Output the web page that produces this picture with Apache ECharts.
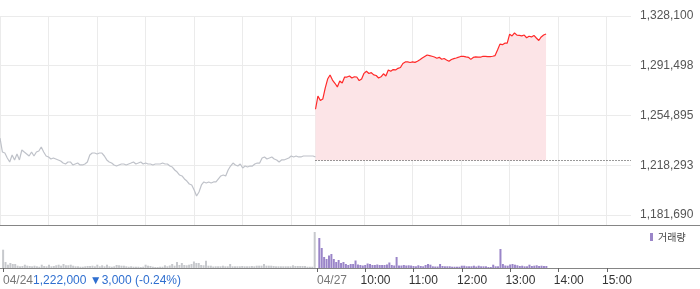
<!DOCTYPE html>
<html>
<head>
<meta charset="utf-8">
<script src="https://cdn.jsdelivr.net/npm/echarts@6/dist/echarts.min.js"></script>
<style>
html,body{margin:0;padding:0;background:#fff;}
#chart{width:700px;height:289px;}
</style>
</head>
<body>
<div id="chart"></div>
<script>
// ---- data ----
// minutes from 04/24 09:00 (04/24 session: 0..390, 04/27 session: 390..780)
const dateLabels = ['04/24', '04/27'];
const dateMinutes = [0, 390];
const timeLabels = ['10:00', '11:00', '12:00', '13:00', '14:00', '15:00'];
const timeMinutes = [450, 510, 570, 630, 690, 750];
const prevDayHourMinutes = [0, 60, 120, 180, 240, 300, 360];
const yTicks = [1181690, 1218293, 1254895, 1291498, 1328100];
const prevClose = 1222000;
const prevChange = -3000;
const prevChangePct = -0.24;
const priceStep = 3; // minutes between points

// 04/24 price, every 3 minutes from 09:00
const prevPrice = [
  1238300,1228000,1227300,1223600,1220700,1225800,1222200,1226600,1222200,1229500,
  1228000,1226600,1225100,1228000,1225100,1228000,1228800,1231700,1228000,1225100,
  1224400,1222900,1223600,1222900,1222200,1221400,1219900,1219200,1220700,1220700,
  1218500,1219200,1219900,1218500,1218500,1219200,1220700,1225800,1227300,1227300,
  1226600,1227300,1227300,1225100,1222200,1220700,1219900,1218500,1217700,1218500,
  1219200,1219200,1218500,1219200,1219900,1220700,1219200,1219900,1220700,1219200,
  1219900,1219200,1219200,1218500,1219200,1219200,1219200,1219900,1219200,1219200,
  1217700,1217000,1214800,1213300,1211100,1210400,1208200,1206700,1204500,1203800,
  1200100,1195700,1198600,1203800,1206000,1205200,1206000,1205200,1206000,1206000,
  1208200,1210400,1211100,1210400,1214800,1217700,1219900,1218500,1217700,1219200,
  1216300,1217700,1217000,1217700,1217700,1219200,1219900,1219900,1223600,1224400,
  1222900,1223600,1224400,1222900,1222200,1220700,1222200,1222200,1222900,1223600,
  1225100,1224400,1225100,1224400,1224400,1225100,1225100,1225100,1225100,1225100,
  1224400
];
// 04/27 price, every 3 minutes from 09:00
const todayPrice = [
  1259500,1269200,1265900,1267000,1275100,1281700,1284700,1281000,1278600,1275900,
  1280300,1278800,1283200,1283200,1284000,1282500,1283400,1283200,1280600,1281700,
  1285900,1287400,1285800,1286400,1284800,1284300,1282500,1283400,1285600,1284000,
  1288400,1287400,1288700,1288400,1289600,1290200,1293200,1294300,1294300,1293900,
  1294400,1294000,1294800,1295900,1297200,1298300,1299400,1299000,1298500,1297900,
  1297000,1297700,1296300,1296800,1295700,1294800,1296100,1296700,1297200,1297800,
  1298500,1298400,1298000,1297700,1296200,1297600,1298000,1297900,1297800,1298500,
  1298400,1298200,1298200,1298500,1299000,1303100,1307400,1307000,1308100,1308200,
  1314700,1313400,1315600,1314000,1313800,1313500,1314100,1312100,1313200,1312700,
  1313800,1311900,1310100,1312700,1314100,1314900
];
// volume per 3-minute bucket
const prevVol = [
  1830,600,330,500,400,400,230,170,200,330,
  230,200,170,230,170,130,330,200,170,330,
  170,200,270,330,230,400,270,270,330,230,
  170,170,130,130,170,200,200,230,170,330,
  170,270,170,330,170,130,170,300,270,230,
  230,170,130,170,130,130,130,100,130,330,
  230,200,130,100,100,130,130,270,170,250,
  400,230,600,300,500,300,270,330,400,650,
  500,500,300,270,730,230,230,150,170,170,
  170,230,170,170,400,170,170,170,170,200,
  170,170,170,200,170,230,230,230,400,230,
  230,230,200,170,170,170,170,170,170,170,
  270,200,200,200,200,200,130,130,130,3600
];
const todayVol = [
  3000,2000,1100,900,1250,1400,900,600,800,500,
  600,400,300,400,400,750,350,300,250,300,
  450,400,300,300,350,300,300,300,350,550,
  300,250,1100,250,250,300,250,270,250,200,
  170,270,200,170,300,400,330,170,150,150,
  400,200,170,170,170,130,130,130,130,230,
  230,170,170,170,230,150,230,170,170,170,
  100,100,330,170,170,1900,400,250,230,350,
  400,330,270,200,230,170,170,330,200,230,
  270,200,230,200,200
];

// ---- chart ----
const fmt = v => String(Math.round(v)).replace(/\B(?=(\d{3})+(?!\d))/g, ',');
const sessionLen = 390;
const totalLen = 780;
const yMin = 1174333, yMax = 1328100;
const FONT = '"Liberation Sans", Arial, sans-serif';

const chart = echarts.init(document.getElementById('chart'), null, {renderer: 'canvas'});
const gridMinutes = prevDayHourMinutes.concat([sessionLen], timeMinutes);
const changeText = fmt(prevClose) + ' \u25BC' + fmt(Math.abs(prevChange)) + ' (' + prevChangePct.toFixed(2) + '%)';

chart.setOption({
  animation: false,
  grid: [
    {left: 0, right: 69, top: 16, height: 209},
    {left: 0, right: 69, top: 232, height: 36}
  ],
  legend: {
    data: ['거래량'], left: 650, top: 232, padding: 0,
    icon: 'rect', itemWidth: 3, itemHeight: 8, itemGap: 0,
    textStyle: {fontSize: 10, color: '#444', fontFamily: '"Noto Sans CJK KR", sans-serif'}
  },
  xAxis: [
    {gridIndex: 0, type: 'value', min: 0, max: totalLen,
     axisLine: {show: false}, axisTick: {show: false, customValues: gridMinutes},
     axisLabel: {show: false}, splitLine: {show: true, lineStyle: {color: '#ebebeb', width: 1}}},
    {gridIndex: 1, type: 'value', min: 0, max: totalLen, position: 'bottom',
     axisLine: {show: false},
     axisTick: {show: true, customValues: dateMinutes.concat(timeMinutes), length: 4, lineStyle: {color: '#666'}},
     axisLabel: {customValues: dateMinutes, align: 'left', margin: 7, fontSize: 12, fontFamily: FONT, color: '#777',
       formatter: v => v === dateMinutes[0] ? '{d|' + dateLabels[0] + '}{p|' + changeText + '}' : dateLabels[dateMinutes.indexOf(v)],
       rich: {d: {color: '#777', fontSize: 12, fontFamily: FONT}, p: {color: '#2f6fd0', fontSize: 12, fontFamily: FONT}}},
     splitLine: {show: false}},
    {gridIndex: 1, type: 'value', min: 6, max: totalLen + 6, position: 'bottom',
     axisLine: {show: false}, axisTick: {show: false, customValues: timeMinutes},
     axisLabel: {customValues: timeMinutes, align: 'left', margin: 7, fontSize: 12, fontFamily: FONT, color: '#333',
       formatter: v => timeLabels[timeMinutes.indexOf(v)]},
     splitLine: {show: false}}
  ],
  yAxis: [
    {gridIndex: 0, type: 'value', position: 'right', min: yMin, max: yMax,
     axisLine: {show: false}, axisTick: {show: false, customValues: yTicks},
     axisLabel: {customValues: yTicks, margin: 9, fontSize: 12, fontFamily: FONT, color: '#555', formatter: v => fmt(v)},
     splitLine: {show: true, lineStyle: {color: '#ebebeb', width: 1}}},
    {gridIndex: 1, type: 'value', min: 0, max: 3600, show: false}
  ],
  graphic: [
    {type: 'line', shape: {x1: 0, y1: 225.5, x2: 700, y2: 225.5}, style: {stroke: '#858585', lineWidth: 1}, silent: true},
    {type: 'line', shape: {x1: 0, y1: 268.5, x2: 700, y2: 268.5}, style: {stroke: '#858585', lineWidth: 1}, silent: true}
  ],
  series: [
    {name: 'prev', type: 'line', xAxisIndex: 0, yAxisIndex: 0, showSymbol: false, silent: true,
     data: prevPrice.map((v, i) => [i * priceStep, v]),
     lineStyle: {color: '#bfc2c9', width: 1.2}},
    {name: 'today', type: 'line', xAxisIndex: 0, yAxisIndex: 0, showSymbol: false, silent: true, z: 3,
     data: todayPrice.map((v, i) => [sessionLen + i * priceStep, v]),
     lineStyle: {color: '#ff2a2a', width: 1.2},
     areaStyle: {color: '#fce4e7', opacity: 1, origin: prevClose},
     markLine: {silent: true, symbol: 'none', label: {show: false},
       lineStyle: {color: '#333', type: [1, 2], width: 1},
       data: [[{coord: [sessionLen, prevClose]}, {coord: [totalLen, prevClose]}]]}},
    {name: 'prevVol', type: 'bar', xAxisIndex: 1, yAxisIndex: 1, silent: true, barWidth: 2,
     itemStyle: {color: '#c7c9cd'},
     data: prevVol.map((v, i) => [priceStep / 2 + i * priceStep, v])},
    {name: '거래량', type: 'bar', xAxisIndex: 1, yAxisIndex: 1, silent: true, barWidth: 2,
     itemStyle: {color: '#9a85c8'},
     data: todayVol.map((v, i) => [sessionLen + priceStep / 2 + i * priceStep, v])}
  ]
});
</script>
</body>
</html>
